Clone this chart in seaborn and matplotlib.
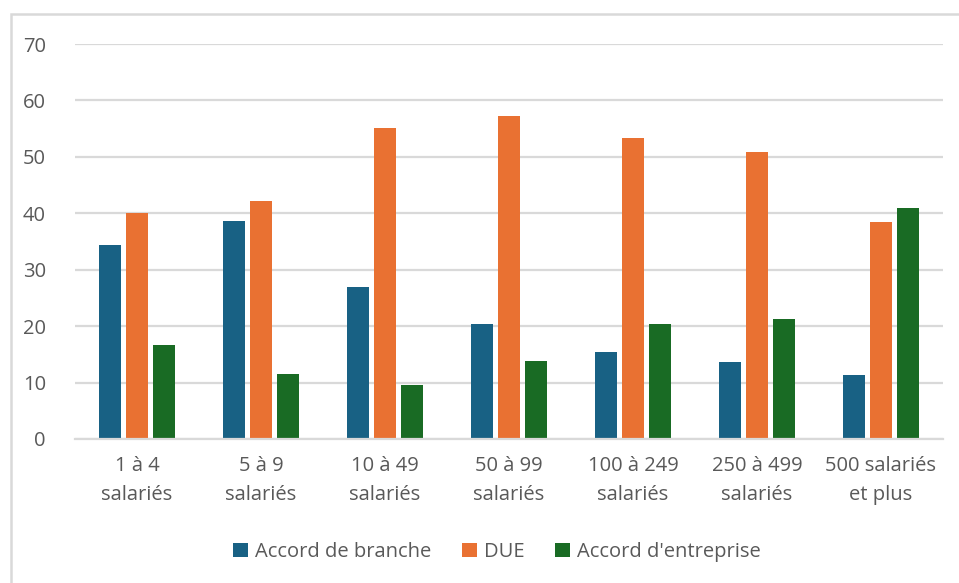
import matplotlib
matplotlib.use("Agg")
import matplotlib.pyplot as plt
from matplotlib.patches import Rectangle
import seaborn as sns
import pandas as pd

categories = ["1 à 4\nsalariés", "5 à 9\nsalariés", "10 à 49\nsalariés",
              "50 à 99\nsalariés", "100 à 249\nsalariés", "250 à 499\nsalariés",
              "500 salariés\net plus"]
series_names = ["Accord de branche", "DUE", "Accord d'entreprise"]
accord_branche = [34.3, 38.6, 27.0, 20.4, 15.4, 13.6, 11.4]
due = [40.0, 42.2, 55.2, 57.3, 53.4, 50.9, 38.4]
accord_entreprise = [16.6, 11.5, 9.5, 13.8, 20.4, 21.3, 40.9]
y_ticks = [0, 10, 20, 30, 40, 50, 60, 70]
colors = ["#186184", "#e97132", "#196b24"]

df = pd.DataFrame({
    "cat": categories * 3,
    "serie": [series_names[0]] * 7 + [series_names[1]] * 7 + [series_names[2]] * 7,
    "val": accord_branche + due + accord_entreprise,
})

sns.set_theme(style="white")
plt.rcParams["font.family"] = ["Open Sans", "DejaVu Sans"]
text_color = "#595959"
grid_color = "#d9d9d9"
fs = 14.5

fig = plt.figure(figsize=(9.59, 5.83), dpi=100)
ax = fig.add_axes([0.0782, 0.247, 0.9051, 0.6775])

sns.barplot(data=df, x="cat", y="val", hue="serie", order=categories,
            hue_order=series_names, palette=colors, width=0.66, gap=0.2,
            saturation=1, edgecolor="none", ax=ax, legend=True)

ax.set_ylim(0, 70)
ax.set_xlim(-0.5, len(categories) - 0.5)
ax.set_yticks(y_ticks)
ax.yaxis.grid(True, color=grid_color, linewidth=1.6)
ax.set_axisbelow(True)
for side in ["top", "right", "left"]:
    ax.spines[side].set_visible(False)
ax.spines["bottom"].set_color(grid_color)
ax.spines["bottom"].set_linewidth(1.6)
ax.set_xlabel("")
ax.set_ylabel("")
ax.tick_params(axis="y", length=0, pad=21, labelsize=fs, labelcolor=text_color)
ax.tick_params(axis="x", length=0, pad=12, labelsize=fs, labelcolor=text_color)
for lbl in ax.get_xticklabels():
    lbl.set_linespacing(1.6)

leg = ax.legend(loc="center", bbox_to_anchor=(0.518, 0.0532), bbox_transform=fig.transFigure,
                ncol=3, frameon=False, fontsize=fs, handlelength=0.75, handleheight=0.75,
                handletextpad=0.35, columnspacing=1.5)
for t in leg.get_texts():
    t.set_color(text_color)

# outer chart frame
fig.patches.append(Rectangle((11 / 959, -0.05), 1.1, 1 - 14 / 583 + 0.05,
                             transform=fig.transFigure, fill=False,
                             edgecolor=grid_color, linewidth=1.8))

fig.savefig("out.png", dpi=100)
